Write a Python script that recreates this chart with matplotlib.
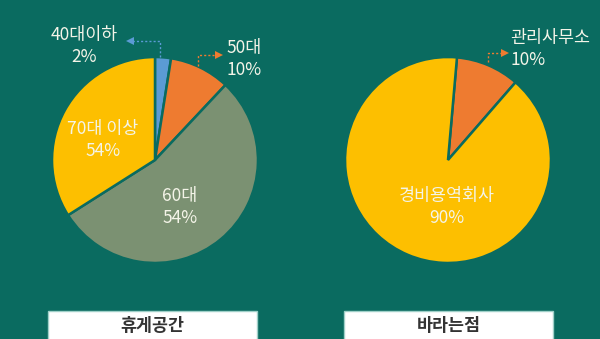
import matplotlib.pyplot as plt
from matplotlib.patches import Rectangle

plt.rcParams['font.family'] = ['Noto Sans CJK KR', 'DejaVu Sans']

# 휴게공간 (left pie)
rest_labels = ['40대이하', '50대', '60대', '70대 이상']
rest_values = [2.5, 9.5, 54, 34]
rest_texts = ['2%', '10%', '54%', '54%']
rest_colors = ['#5b9bd5', '#ee7b30', '#7b9172', '#fdbf00']

# 바라는점 (right pie)
wish_labels = ['관리사무소', '경비용역회사']
wish_values = [10, 90]
wish_texts = ['10%', '90%']
wish_colors = ['#ee7b30', '#fdbf00']

bg = '#0a6b60'
txt = '#f4f4e8'

fig = plt.figure(figsize=(6, 3.39), dpi=100, facecolor=bg)

# pies, placed in pixel coordinates of the 600x339 canvas
W, H = 600, 339
r = 104
ax1 = fig.add_axes([(155 - r) / W, (H - 160 - r) / H, 2 * r / W, 2 * r / H])
ax2 = fig.add_axes([(448 - r) / W, (H - 160 - r) / H, 2 * r / W, 2 * r / H])

ax1.pie(rest_values, colors=rest_colors, startangle=90, counterclock=False,
        wedgeprops=dict(edgecolor=bg, linewidth=1.8))
ax2.pie(wish_values, colors=wish_colors, startangle=85, counterclock=False,
        wedgeprops=dict(edgecolor=bg, linewidth=1.8))
for ax in (ax1, ax2):
    ax.set_xlim(-1.01, 1.01)
    ax.set_ylim(-1.01, 1.01)
    ax.set_aspect('equal')
    ax.set_facecolor('none')

# overlay axes in pixel coordinates for labels, arrows and boxes
ov = fig.add_axes([0, 0, 1, 1])
ov.set_xlim(0, W)
ov.set_ylim(H, 0)
ov.axis('off')
ov.patch.set_alpha(0)

fs = 12.5
# inside labels
ov.text(103, 140, rest_labels[3] + '\n' + rest_texts[3], color=txt, fontsize=fs,
        ha='center', va='center', linespacing=1.3)
ov.text(180, 207, rest_labels[2] + '\n' + rest_texts[2], color=txt, fontsize=fs,
        ha='center', va='center', linespacing=1.3)
ov.text(447, 207, wish_labels[1] + '\n' + wish_texts[1], color=txt, fontsize=fs,
        ha='center', va='center', linespacing=1.3)

# outside labels
ov.text(84, 46, rest_labels[0] + '\n' + rest_texts[0], color=txt, fontsize=fs,
        ha='center', va='center', linespacing=1.25)
ov.text(226, 59, rest_labels[1] + '\n' + rest_texts[1], color=txt, fontsize=fs,
        ha='left', va='center', linespacing=1.25)
ov.text(510, 49, wish_labels[0] + '\n' + wish_texts[0], color=txt, fontsize=fs,
        ha='left', va='center', linespacing=1.25)


def leader(x0, y0, y1, x1, color):
    ov.plot([x0, x0, x1], [y0, y1, y1], color=color, lw=1, ls=(0, (1.5, 1.5)))
    d = 1 if x1 > x0 else -1
    ov.plot([x1], [y1], marker='>' if d > 0 else '<', color=color,
            markersize=6, markeredgewidth=0)


leader(160, 57, 41, 130, '#5b9bd5')
leader(198, 66, 55, 219, '#ee7b30')
leader(488, 62, 53, 505, '#ee7b30')

# title boxes at the bottom
for x0, name in [(48, '휴게공간'), (344, '바라는점')]:
    ov.add_patch(Rectangle((x0, 311), 209, 30, facecolor='white',
                           edgecolor='#9fd0c8', lw=1))
    ov.text(x0 + 104.5, 326, name, color='#333333', fontsize=12.5,
            fontweight='bold', ha='center', va='center')

fig.savefig('out.png', dpi=100, facecolor=bg)
